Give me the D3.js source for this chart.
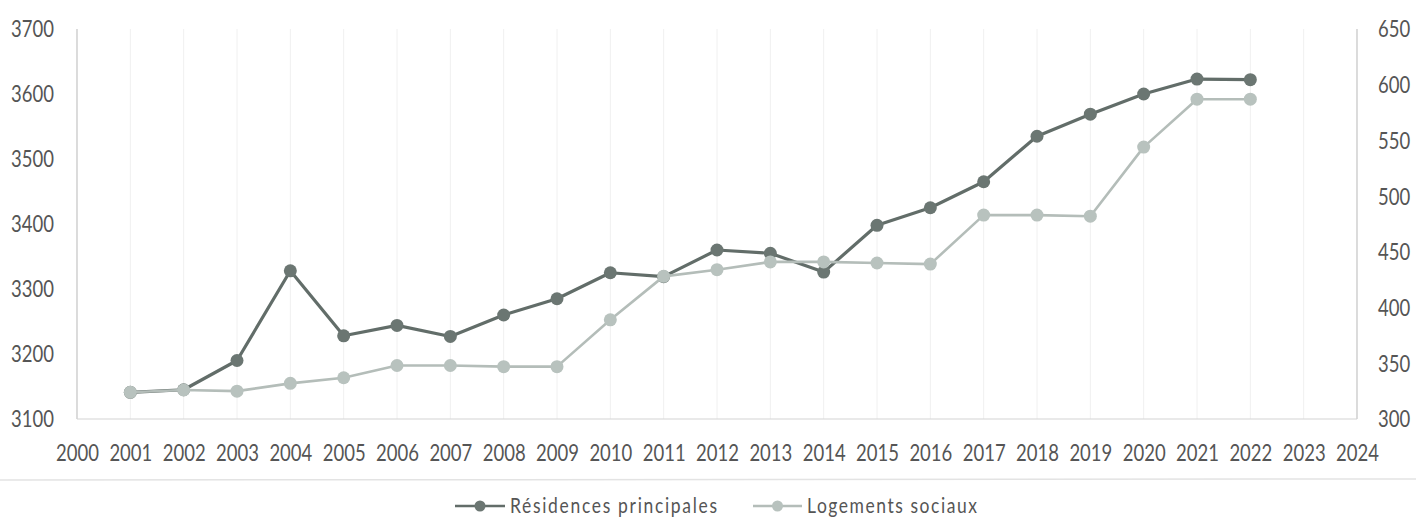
<!DOCTYPE html>
<html>
<head>
<meta charset="utf-8">
<script src="https://cdn.jsdelivr.net/npm/d3@7"></script>
<style>
  body { margin: 0; background: #fff; }
  svg { display: block; }
</style>
</head>
<body>
<svg id="chart" width="1416" height="522"></svg>
<script>
// Axis categories (years shown on the x axis)
const years = [2000, 2001, 2002, 2003, 2004, 2005, 2006, 2007, 2008, 2009, 2010, 2011,
               2012, 2013, 2014, 2015, 2016, 2017, 2018, 2019, 2020, 2021, 2022, 2023, 2024];
// Years with observations
const dataYears = [2001, 2002, 2003, 2004, 2005, 2006, 2007, 2008, 2009, 2010, 2011,
                   2012, 2013, 2014, 2015, 2016, 2017, 2018, 2019, 2020, 2021, 2022];
// Résidences principales (left axis)
const residences = [3141, 3145, 3190, 3328, 3228, 3244, 3227, 3260, 3285, 3325, 3319,
                    3360, 3355, 3326, 3398, 3425, 3465, 3535, 3569, 3600, 3623, 3622];
// Logements sociaux (right axis)
const logements = [324, 326, 325, 332, 337, 348, 348, 347, 347, 389, 428,
                   434, 441, 441, 440, 439, 483, 483, 482, 544, 587, 587];
const leftTicks = [3100, 3200, 3300, 3400, 3500, 3600, 3700];
const rightTicks = [300, 350, 400, 450, 500, 550, 600, 650];
const seriesNames = ["Résidences principales", "Logements sociaux"];

const W = 1416, H = 522;
const plot = { left: 77, right: 1357, top: 29, bottom: 419 };
const FONT = "Lato, 'Open Sans', sans-serif";
const TEXT_FILL = "#555555";
const STRETCH = 1.2;

const dark = { line: "#626d69", dot: "#6b7672" };
const light = { line: "#b4bdb9", dot: "#b8c2be" };

const svg = d3.select("#chart");

const x = d3.scalePoint().domain(years).range([plot.left, plot.right]);
const yL = d3.scaleLinear().domain([3100, 3700]).range([plot.bottom, plot.top]);
const yR = d3.scaleLinear().domain([300, 650]).range([plot.bottom, plot.top]);

// faint vertical gridlines at each year
svg.append("g")
  .selectAll("line")
  .data(years.slice(1, -1))
  .join("line")
  .attr("x1", d => x(d)).attr("x2", d => x(d))
  .attr("y1", plot.top).attr("y2", plot.bottom)
  .attr("stroke", "#f0f0f0").attr("stroke-width", 1);

// frame: left axis, right axis, baseline
const frame = svg.append("g").attr("stroke", "#c4c4c4").attr("stroke-width", 1.2);
frame.append("line").attr("x1", plot.left).attr("x2", plot.left).attr("y1", plot.top).attr("y2", plot.bottom);
frame.append("line").attr("x1", plot.right).attr("x2", plot.right).attr("y1", plot.top).attr("y2", plot.bottom);
frame.append("line").attr("x1", plot.left).attr("x2", plot.right).attr("y1", plot.bottom).attr("y2", plot.bottom)
  .attr("stroke", "#d4d4d4");

// separator under the axis labels
svg.append("line")
  .attr("x1", 0).attr("x2", W).attr("y1", 480).attr("y2", 479)
  .attr("stroke", "#e3e3e3").attr("stroke-width", 1.5);

function styleAxis(g) {
  g.select(".domain").remove();
  g.selectAll(".tick line").remove();
  g.selectAll("text")
    .attr("font-family", FONT)
    .attr("font-size", 18.5)
    .attr("fill", TEXT_FILL);
}

// left axis
const gL = svg.append("g").attr("transform", `translate(${plot.left},0)`)
  .call(d3.axisLeft(yL).tickValues(leftTicks).tickFormat(d3.format("d")).tickSizeOuter(0));
styleAxis(gL);
gL.selectAll("text").attr("x", -23).attr("dy", null).attr("y", 6.6)
  .attr("transform", `scale(1,${STRETCH})`);

// right axis
const gR = svg.append("g").attr("transform", `translate(${plot.right},0)`)
  .call(d3.axisRight(yR).tickValues(rightTicks).tickFormat(d3.format("d")).tickSizeOuter(0));
styleAxis(gR);
gR.selectAll("text").attr("x", 21).attr("dy", null).attr("y", 6.6)
  .attr("transform", `scale(1,${STRETCH})`);

// bottom axis
const gB = svg.append("g").attr("transform", `translate(0,${plot.bottom})`)
  .call(d3.axisBottom(x).tickFormat(d3.format("d")).tickSizeOuter(0));
styleAxis(gB);
gB.selectAll("text").attr("dy", null).attr("y", 34.6)
  .attr("transform", `scale(1,${STRETCH})`);

// series
function drawSeries(values, yScale, col, lw, r) {
  const pts = dataYears.map((yr, i) => [x(yr), yScale(values[i])]);
  const g = svg.append("g");
  g.append("path")
    .attr("d", d3.line()(pts))
    .attr("fill", "none")
    .attr("stroke", col.line)
    .attr("stroke-width", lw)
    .attr("stroke-linejoin", "round");
  g.selectAll("circle")
    .data(pts)
    .join("circle")
    .attr("cx", d => d[0]).attr("cy", d => d[1])
    .attr("r", r)
    .attr("fill", col.dot);
}
drawSeries(residences, yL, dark, 3.2, 6.5);
drawSeries(logements, yR, light, 2.6, 6.5);

// legend
const legendItems = [
  { name: seriesNames[0], col: dark, x0: 455, x1: 505, tx: 510, tw: 207 },
  { name: seriesNames[1], col: light, x0: 753, x1: 802, tx: 807, tw: 170 }
];
const ly = 506;
const lg = svg.append("g");
legendItems.forEach(it => {
  lg.append("line").attr("x1", it.x0).attr("x2", it.x1).attr("y1", ly).attr("y2", ly)
    .attr("stroke", it.col.line).attr("stroke-width", 2.6);
  lg.append("circle").attr("cx", (it.x0 + it.x1) / 2).attr("cy", ly).attr("r", 5.5)
    .attr("fill", it.col.dot);
  lg.append("text")
    .attr("x", it.tx).attr("y", 513 / STRETCH)
    .attr("transform", `scale(1,${STRETCH})`)
    .attr("font-family", FONT).attr("font-size", 17.5)
    .attr("fill", TEXT_FILL)
    .attr("textLength", it.tw).attr("lengthAdjust", "spacing")
    .text(it.name);
});
</script>
</body>
</html>
